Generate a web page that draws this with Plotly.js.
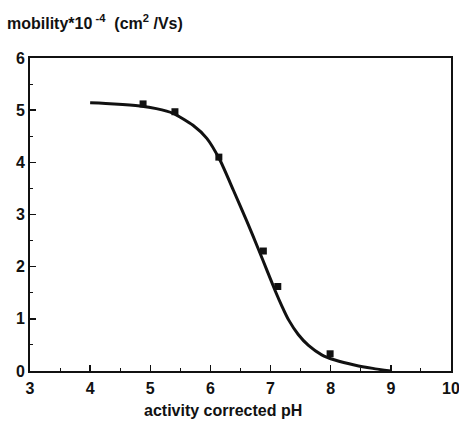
<!DOCTYPE html>
<html>
<head>
<meta charset="utf-8">
<script src="https://cdn.plot.ly/plotly-3.0.1.min.js"></script>
<style>html,body{margin:0;padding:0;background:#fff;}#plot{width:459px;height:421px;}</style>
</head>
<body>
<div id="plot"></div>
<script>
// measured points
var pointsX = [4.88, 5.41, 6.14, 6.88, 7.12, 7.99];
var pointsY = [5.12, 4.97, 4.10, 2.30, 1.62, 0.33];
// fitted curve
var curveX = [4.0, 4.4, 4.83, 5.1, 5.38, 5.71, 5.94, 6.16, 6.38, 6.61, 6.80, 6.94, 7.08, 7.19, 7.30, 7.46, 7.63, 7.85, 8.07, 8.41, 8.70, 9.0];
var curveY = [5.14, 5.12, 5.08, 5.03, 4.94, 4.71, 4.46, 4.04, 3.47, 2.86, 2.33, 1.93, 1.53, 1.24, 0.98, 0.70, 0.49, 0.31, 0.21, 0.11, 0.05, 0.0];
var xTicks = [3, 4, 5, 6, 7, 8, 9, 10];
var yTicks = [0, 1, 2, 3, 4, 5, 6];

var fam = 'Liberation Sans, Arial, sans-serif';
var data = [
  {x: curveX, y: curveY, mode: 'lines', line: {color: '#111', width: 3, shape: 'spline', smoothing: 0.6}, hoverinfo: 'skip'},
  {x: pointsX, y: pointsY, mode: 'markers', marker: {symbol: 'square', size: 7, color: '#111'}}
];
var axisCommon = {
  showgrid: false, zeroline: false, showline: true, linecolor: '#111', linewidth: 2,
  mirror: true, ticks: 'inside', ticklen: 6, tickwidth: 1.5, tickcolor: '#111',
  ticklabeloverflow: 'allow',
  tickfont: {family: fam, size: 16, color: '#111', weight: 'bold'}
};
var layout = {
  width: 459, height: 421,
  margin: {l: 30, r: 8, t: 58, b: 50},
  showlegend: false,
  paper_bgcolor: '#fff', plot_bgcolor: '#fff',
  xaxis: Object.assign({}, axisCommon, {
    range: [3, 10], tickvals: xTicks, ticktext: xTicks.map(String), ticklabelstandoff: 2,
    minor: {dtick: 0.5, tick0: 3, ticks: 'inside', ticklen: 3, tickcolor: '#111', tickwidth: 1}
  }),
  yaxis: Object.assign({}, axisCommon, {
    range: [0, 6], tickvals: yTicks, ticktext: yTicks.map(String),
    minor: {dtick: 0.5, tick0: 0, ticks: 'inside', ticklen: 3, tickcolor: '#111', tickwidth: 1}
  }),
  annotations: [{
    text: 'mobility*10<sup> -4</sup>  (cm<sup>2</sup> /Vs)', xref: 'paper', yref: 'paper',
    x: -0.059, y: 1.115, xanchor: 'left', yanchor: 'middle', showarrow: false,
    font: {family: fam, size: 16, color: '#111', weight: 'bold'}
  }, {
    text: 'activity corrected pH', xref: 'paper', yref: 'paper',
    x: 0.458, y: -0.125, xanchor: 'center', yanchor: 'middle', showarrow: false,
    font: {family: fam, size: 16, color: '#111', weight: 'bold'}
  }]
};
Plotly.newPlot('plot', data, layout, {staticPlot: true, displayModeBar: false});
</script>
</body>
</html>
